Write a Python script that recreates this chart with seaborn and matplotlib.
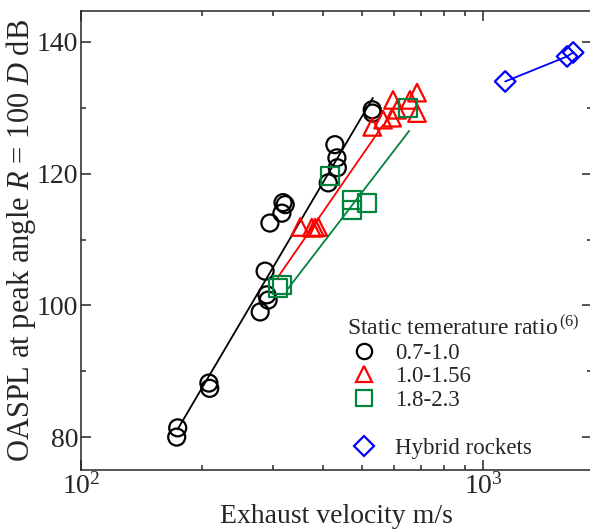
import numpy as np
import pandas as pd
import matplotlib
matplotlib.use("Agg")
import matplotlib.pyplot as plt
from matplotlib.lines import Line2D
from matplotlib.ticker import MultipleLocator
import seaborn as sns

# Data (velocity m/s, OASPL dB)
cold_v = [174, 173, 208, 209, 287, 290, 292, 279, 295, 316, 318, 322, 428, 433, 434, 412, 530, 531]
cold_db = [81.4, 80.0, 88.2, 87.4, 105.2, 101.6, 100.8, 99.0, 112.5, 114.0, 115.6, 115.3,
           124.4, 122.4, 120.9, 118.6, 129.7, 129.2]
mid_v = [351, 375, 382, 389, 530, 564, 594, 597, 611, 658, 685, 685]
mid_db = [111.9, 111.8, 111.8, 111.9, 127.1, 128.2, 128.5, 131.2, 129.7, 131.2, 132.3, 129.2]
hot_v = [316, 309, 416, 472, 472, 515, 651]
hot_db = [103.1, 102.6, 119.7, 116.0, 114.5, 115.6, 130.0]
hybrid_v = [1135, 1618, 1675]
hybrid_db = [134.0, 137.8, 138.4]

# fitted lines (end points)
cold_fit_v = [174, 532]
cold_fit_db = [81.2, 131.5]
mid_fit_v = [309, 564]
mid_fit_db = [104.3, 127.4]
hot_fit_v = [325, 655]
hot_fit_db = [102.3, 126.5]

labels = ["0.7-1.0", "1.0-1.56", "1.8-2.3"]

sns.set_style("ticks")
plt.rcParams["font.family"] = ["Liberation Serif", "DejaVu Serif"]
plt.rcParams["mathtext.fontset"] = "custom"
plt.rcParams["mathtext.rm"] = "Liberation Serif"
plt.rcParams["mathtext.it"] = "Liberation Serif:italic"
plt.rcParams["mathtext.default"] = "regular"

fig = plt.figure(figsize=(5.9, 5.31), dpi=100)
ax = fig.add_axes([81 / 590, 61 / 531, 511 / 590, 459 / 531])

green = "#00843d"
groups = [
    (cold_v, cold_db, cold_fit_v, cold_fit_db, "o", "black", 150),
    (mid_v, mid_db, mid_fit_v, mid_fit_db, "^", "red", 160),
    (hot_v, hot_db, hot_fit_v, hot_fit_db, "s", green, 165),
]
handles = []
for (v, db, fv, fdb, mk, col, s), lab in zip(groups, labels):
    sns.lineplot(x=fv, y=fdb, color=col, lw=1.3, ax=ax, zorder=2)
    sns.scatterplot(x=v, y=db, marker=mk, s=s, color=col, facecolor="none",
                    edgecolor=col, linewidth=1.6, ax=ax, zorder=3)
    handles.append(Line2D([], [], ls="none", marker=mk, ms=11, mfc="none",
                          mec=col, mew=1.6, label=lab))

sns.lineplot(x=hybrid_v, y=hybrid_db, color="blue", lw=1.3, ax=ax, zorder=2)
sns.scatterplot(x=hybrid_v, y=hybrid_db, marker="D", s=110, color="blue", facecolor="none",
                edgecolor="blue", linewidth=1.6, ax=ax, zorder=3)
handles.append(Line2D([], [], ls="none", label=" "))
handles.append(Line2D([], [], ls="none", marker="D", ms=10, mfc="none",
                      mec="blue", mew=1.6, label="Hybrid rockets"))

ax.set_xscale("log")
ax.set_xlim(100, 1866)
ax.set_ylim(75, 144.7)
ax.yaxis.set_major_locator(MultipleLocator(20))
ax.yaxis.set_minor_locator(MultipleLocator(10))
ax.tick_params(which="both", direction="in", top=True, right=True, labelsize=20, width=1.1)
ax.tick_params(which="major", length=7, pad=2)
ax.tick_params(which="minor", length=3.5)
for sp in ax.spines.values():
    sp.set_linewidth(1.1)

ax.set_xlabel("Exhaust velocity m/s", fontsize=20)
ax.set_ylabel(r"OASPL at peak angle $\mathit{R}$ = 100 $\mathit{D}$ dB", fontsize=22)
ax.xaxis.set_label_coords(0.5, -0.075)
ax.yaxis.set_label_coords(-0.085, 0.5)

leg = ax.legend(handles=handles, title="Static temerature ratio$^{\\,(6)}$", loc="upper left",
                bbox_to_anchor=(0.52, 0.335), frameon=False, fontsize=16.5, title_fontsize=17,
                handlelength=1.52, handletextpad=0.59, labelspacing=0.12, borderpad=0,
                borderaxespad=0, alignment="left")

fig.savefig("out.png", dpi=100)
